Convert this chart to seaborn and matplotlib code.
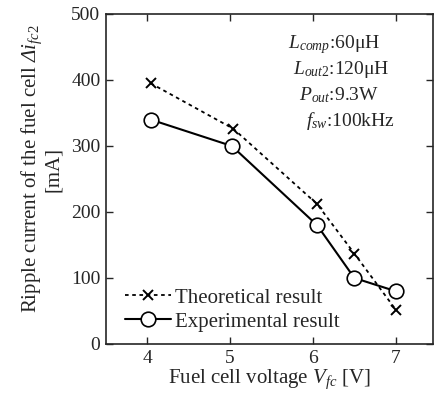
import matplotlib
matplotlib.use("Agg")
import matplotlib.pyplot as plt
import pandas as pd
import seaborn as sns

# --- data ----------------------------------------------------------------
theory_v = [4.04, 5.04, 6.05, 6.5, 7.0]
theory_ripple = [395, 326, 212, 137, 52]
exp_v = [4.04, 5.02, 6.05, 6.5, 7.0]
exp_ripple = [340, 300, 180, 100, 80]
x_ticks = [4, 5, 6, 7]
y_ticks = [0, 100, 200, 300, 400, 500]
notes = [r"$L_{comp}$:60μH", r"$L_{out2}$:120μH", r"$P_{out}$:9.3W", r"$f_{sw}$:100kHz"]

sns.set_style("ticks")
plt.rcParams["font.family"] = ["Liberation Serif", "DejaVu Serif"]
plt.rcParams["mathtext.fontset"] = "custom"
plt.rcParams["mathtext.rm"] = "Liberation Serif"
plt.rcParams["mathtext.it"] = "Liberation Serif:italic"
plt.rcParams["mathtext.cal"] = "Liberation Serif:italic"  # italic capital Greek
plt.rcParams["axes.linewidth"] = 1.2

theory = pd.DataFrame({"v": theory_v, "ripple": theory_ripple})
exp = pd.DataFrame({"v": exp_v, "ripple": exp_ripple})

fig = plt.figure(figsize=(4.37, 3.97), dpi=100)
ax = fig.add_axes([106 / 437, 53 / 397, 327 / 437, 330 / 397])

sns.lineplot(data=theory, x="v", y="ripple", ax=ax, color="black", lw=1.3,
             linestyle=(0, (2, 2)), marker="x", markersize=7, mew=1.4,
             mec="black", label="Theoretical result")
sns.lineplot(data=exp, x="v", y="ripple", ax=ax, color="black", lw=1.5,
             marker="o", markersize=10.5, mfc="white", mec="black", mew=1.2,
             label="Experimental result")

ax.set_xlim(3.5, 7.45)
ax.set_ylim(0, 500)
ax.set_xticks(x_ticks)
ax.set_yticks(y_ticks)
ax.tick_params(direction="in", top=True, right=True, labelsize=14,
               length=5, width=1.0, pad=4)
ax.set_xlabel(r"Fuel cell voltage $V_{fc}$ [V]", fontsize=15, labelpad=1)
ax.set_ylabel("Ripple current of the fuel cell $\\mathcal{\\Delta}i_{fc2}$\n[mA]",
              fontsize=15, linespacing=1.0)
ax.yaxis.set_label_coords(-0.13, 0.53)

note_x = [288, 293, 299, 306]
for i, s in enumerate(notes):
    fig.text(note_x[i] / 437, 1 - (48 + i * 26) / 397, s,
             fontsize=14, ha="left", va="baseline")

ax.legend(loc="lower left", bbox_to_anchor=(0.02, 0.0), frameon=False,
          fontsize=15, handlelength=2.2, handletextpad=0.2,
          labelspacing=0.2, borderaxespad=0.2)

fig.savefig("out.png", dpi=100)
